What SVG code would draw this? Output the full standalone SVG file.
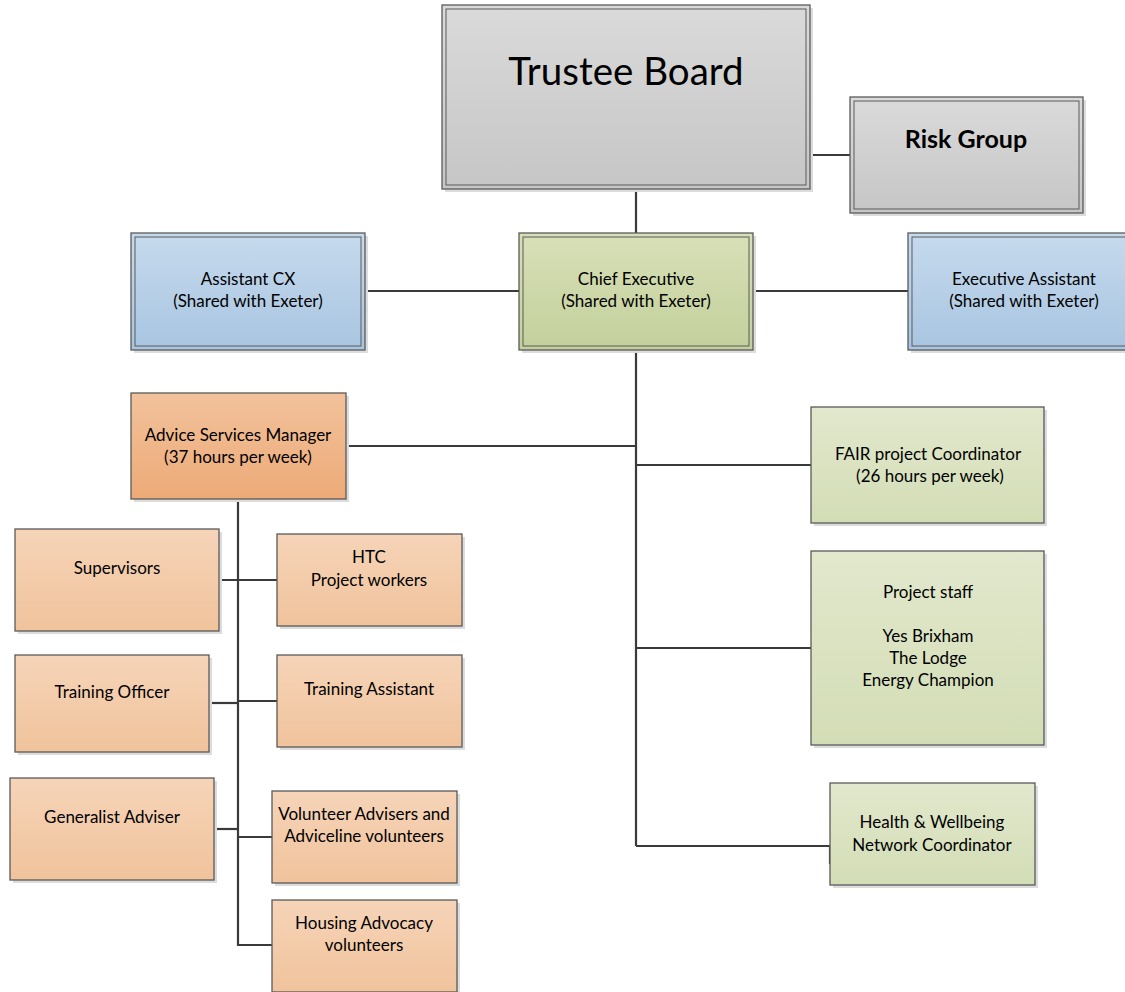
<svg xmlns="http://www.w3.org/2000/svg" width="1125" height="992" viewBox="0 0 1125 992">
<defs>
<linearGradient id="gGray" x1="0" y1="0" x2="0" y2="1"><stop offset="0" stop-color="#dadada"/><stop offset="1" stop-color="#c6c6c6"/></linearGradient>
<linearGradient id="gBlue" x1="0" y1="0" x2="0" y2="1"><stop offset="0" stop-color="#c6daed"/><stop offset="1" stop-color="#a8c5e1"/></linearGradient>
<linearGradient id="gGreenD" x1="0" y1="0" x2="0" y2="1"><stop offset="0" stop-color="#d8e0b8"/><stop offset="1" stop-color="#c3d09b"/></linearGradient>
<linearGradient id="gGreenL" x1="0" y1="0" x2="0" y2="1"><stop offset="0" stop-color="#e2e8cd"/><stop offset="1" stop-color="#d3ddb5"/></linearGradient>
<linearGradient id="gOrangeD" x1="0" y1="0" x2="0" y2="1"><stop offset="0" stop-color="#f2c29c"/><stop offset="1" stop-color="#edaa77"/></linearGradient>
<linearGradient id="gOrangeL" x1="0" y1="0" x2="0" y2="1"><stop offset="0" stop-color="#f6d4b8"/><stop offset="1" stop-color="#f0c39c"/></linearGradient>
</defs>
<style>
.sh{fill:#dcdcdc}
.b{stroke:#5a5a5a;stroke-width:1.3}
.in{fill:none;stroke:#5a5a5a;stroke-width:1}
.t{font-family:Lato,"Liberation Sans",sans-serif;font-size:17px;fill:#000;text-anchor:middle}
.c{fill:none;stroke:#3a3a3a;stroke-width:2.2}
</style>
<g id="connectors">
<line class="c" x1="810" y1="155" x2="850" y2="155"/>
<line class="c" x1="636" y1="189" x2="636" y2="233"/>
<line class="c" x1="365" y1="291" x2="519" y2="291"/>
<line class="c" x1="753" y1="291" x2="908" y2="291"/>
<line class="c" x1="636" y1="350" x2="636" y2="846"/>
<line class="c" x1="346" y1="446" x2="636" y2="446"/>
<line class="c" x1="636" y1="465" x2="811" y2="465"/>
<line class="c" x1="636" y1="648" x2="811" y2="648"/>
<polyline class="c" points="636,846 830,846 830,864"/>
<line class="c" x1="238" y1="499" x2="238" y2="830" stroke-width="3"/>
<polyline class="c" points="238,830 238,945 272,945"/>
<line class="c" x1="219" y1="580" x2="277" y2="580"/>
<line class="c" x1="209" y1="703" x2="238" y2="703"/>
<line class="c" x1="238" y1="701" x2="277" y2="701"/>
<line class="c" x1="214" y1="829" x2="238" y2="829"/>
<line class="c" x1="238" y1="837" x2="272" y2="837"/>
</g>
<g id="trustee-board">
<rect class="sh" x="445" y="8" width="368" height="184"/>
<rect class="b" x="442" y="5" width="368" height="184" fill="url(#gGray)"/>
<rect class="in" x="446" y="9" width="360" height="176"/>
<text class="t" x="626" y="85" style="font-size:38.5px">Trustee Board</text>
</g>
<g id="risk-group">
<rect class="sh" x="853" y="100" width="233" height="116"/>
<rect class="b" x="850" y="97" width="233" height="116" fill="url(#gGray)"/>
<rect class="in" x="854" y="101" width="225" height="108"/>
<text class="t" x="966" y="148" style="font-size:25px;font-weight:bold">Risk Group</text>
</g>
<g id="assistant-cx">
<rect class="sh" x="134" y="236" width="234" height="117"/>
<rect class="b" x="131" y="233" width="234" height="117" fill="url(#gBlue)"/>
<rect class="in" x="135" y="237" width="226" height="109"/>
<text class="t" x="248" y="285">Assistant CX</text>
<text class="t" x="248" y="307">(Shared with Exeter)</text>
</g>
<g id="chief-executive">
<rect class="sh" x="522" y="236" width="234" height="117"/>
<rect class="b" x="519" y="233" width="234" height="117" fill="url(#gGreenD)"/>
<rect class="in" x="523" y="237" width="226" height="109"/>
<text class="t" x="636" y="285">Chief Executive</text>
<text class="t" x="636" y="307">(Shared with Exeter)</text>
</g>
<g id="executive-assistant">
<rect class="sh" x="911" y="236" width="234" height="117"/>
<rect class="b" x="908" y="233" width="234" height="117" fill="url(#gBlue)"/>
<rect class="in" x="912" y="237" width="226" height="109"/>
<text class="t" x="1024" y="285">Executive Assistant</text>
<text class="t" x="1024" y="307">(Shared with Exeter)</text>
</g>
<g id="advice-services-manager">
<rect class="sh" x="134" y="396" width="215" height="106"/>
<rect class="b" x="131" y="393" width="215" height="106" fill="url(#gOrangeD)"/>
<text class="t" x="238" y="441">Advice Services Manager</text>
<text class="t" x="238" y="463">(37 hours per week)</text>
</g>
<g id="supervisors">
<rect class="sh" x="18" y="532" width="204" height="102"/>
<rect class="b" x="15" y="529" width="204" height="102" fill="url(#gOrangeL)"/>
<text class="t" x="117" y="574">Supervisors</text>
</g>
<g id="htc-project-workers">
<rect class="sh" x="280" y="537" width="185" height="92"/>
<rect class="b" x="277" y="534" width="185" height="92" fill="url(#gOrangeL)"/>
<text class="t" x="369" y="563">HTC</text>
<text class="t" x="369" y="586">Project workers</text>
</g>
<g id="training-officer">
<rect class="sh" x="18" y="658" width="194" height="97"/>
<rect class="b" x="15" y="655" width="194" height="97" fill="url(#gOrangeL)"/>
<text class="t" x="112" y="698">Training Officer</text>
</g>
<g id="training-assistant">
<rect class="sh" x="280" y="658" width="185" height="92"/>
<rect class="b" x="277" y="655" width="185" height="92" fill="url(#gOrangeL)"/>
<text class="t" x="369" y="695">Training Assistant</text>
</g>
<g id="generalist-adviser">
<rect class="sh" x="13" y="781" width="204" height="102"/>
<rect class="b" x="10" y="778" width="204" height="102" fill="url(#gOrangeL)"/>
<text class="t" x="112" y="823">Generalist Adviser</text>
</g>
<g id="volunteer-advisers">
<rect class="sh" x="275" y="794" width="185" height="92"/>
<rect class="b" x="272" y="791" width="185" height="92" fill="url(#gOrangeL)"/>
<text class="t" x="364" y="820">Volunteer Advisers and</text>
<text class="t" x="364" y="842">Adviceline volunteers</text>
</g>
<g id="housing-advocacy">
<rect class="sh" x="275" y="903" width="185" height="92"/>
<rect class="b" x="272" y="900" width="185" height="92" fill="url(#gOrangeL)"/>
<text class="t" x="364" y="929">Housing Advocacy</text>
<text class="t" x="364" y="951">volunteers</text>
</g>
<g id="fair-coordinator">
<rect class="sh" x="814" y="410" width="233" height="116"/>
<rect class="b" x="811" y="407" width="233" height="116" fill="url(#gGreenL)"/>
<text class="t" x="928" y="460">FAIR project Coordinator</text>
<text class="t" x="930" y="482">(26 hours per week)</text>
</g>
<g id="project-staff">
<rect class="sh" x="814" y="554" width="233" height="194"/>
<rect class="b" x="811" y="551" width="233" height="194" fill="url(#gGreenL)"/>
<text class="t" x="928" y="598">Project staff</text>
<text class="t" x="928" y="642">Yes Brixham</text>
<text class="t" x="928" y="664">The Lodge</text>
<text class="t" x="928" y="686">Energy Champion</text>
</g>
<g id="health-wellbeing">
<rect class="sh" x="833" y="786" width="205" height="102"/>
<rect class="b" x="830" y="783" width="205" height="102" fill="url(#gGreenL)"/>
<text class="t" x="932" y="828">Health &amp; Wellbeing</text>
<text class="t" x="932" y="851">Network Coordinator</text>
</g>
</svg>
